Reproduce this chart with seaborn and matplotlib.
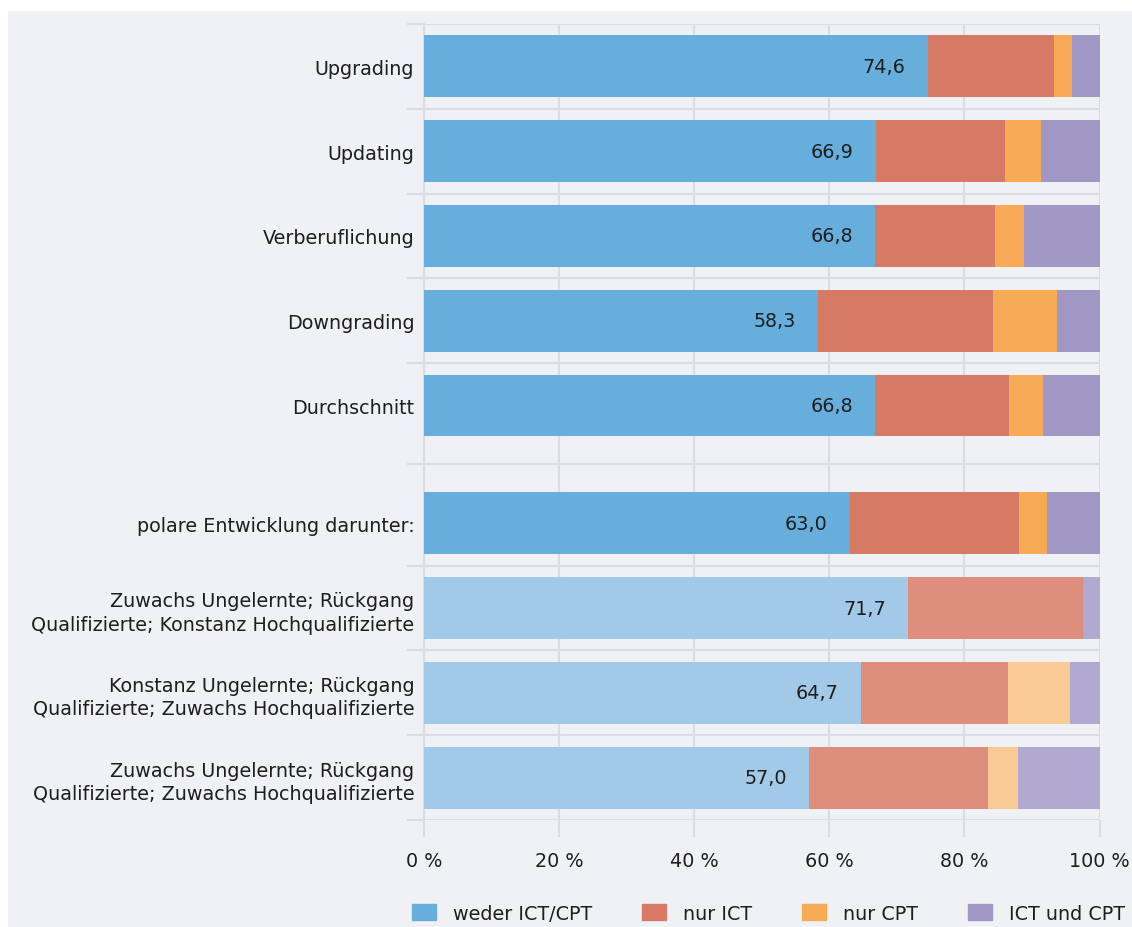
import numpy as np
import pandas as pd
import matplotlib
matplotlib.use("Agg")
import matplotlib.pyplot as plt
import matplotlib.patches as mpatches
import seaborn as sns

# Data (shares in %)
categories = [
    "Upgrading",
    "Updating",
    "Verberuflichung",
    "Downgrading",
    "Durchschnitt",
    "polare Entwicklung darunter:",
    "Zuwachs Ungelernte; Rückgang\nQualifizierte; Konstanz Hochqualifizierte",
    "Konstanz Ungelernte; Rückgang\nQualifizierte; Zuwachs Hochqualifizierte",
    "Zuwachs Ungelernte; Rückgang\nQualifizierte; Zuwachs Hochqualifizierte",
]
weder = [74.6, 66.9, 66.8, 58.3, 66.8, 63.0, 71.7, 64.7, 57.0]
nur_ict = [18.6, 19.1, 17.8, 25.9, 19.8, 25.1, 25.9, 21.7, 26.5]
nur_cpt = [2.8, 5.4, 4.2, 9.5, 5.1, 4.2, 0.0, 9.3, 4.4]
ict_und_cpt = [4.0, 8.6, 11.2, 6.3, 8.3, 7.7, 2.4, 4.3, 12.1]
series_names = ["weder ICT/CPT", "nur ICT", "nur CPT", "ICT und CPT"]

# first rows in full colour, the three sub-rows in a lighter tone
dark_colors = ["#67aedc", "#d67a65", "#f6aa56", "#a197c5"]
light_colors = ["#a3c9e9", "#de8e7c", "#f9ca96", "#b1a9d0"]
n_dark = 6

# layout: gap between "Durchschnitt" and "polare Entwicklung"
gap = 0.39
pos = np.arange(len(categories), dtype=float)
pos[5:] += gap

df = pd.DataFrame({
    "pos": pos,
    "weder": weder,
    "nur_ict": nur_ict,
    "nur_cpt": nur_cpt,
    "beide": ict_und_cpt,
})
# cumulative ends for stacking (draw widest first)
df["c1"] = df["weder"]
df["c2"] = df["c1"] + df["nur_ict"]
df["c3"] = df["c2"] + df["nur_cpt"]
df["c4"] = df["c3"] + df["beide"]

bg = "#f0f1f5"
grid_col = "#dcdde1"
text_col = "#1e1e1e"

sns.set_theme(style="white")
plt.rcParams["font.family"] = ["DejaVu Sans"]

fig = plt.figure(figsize=(11.32, 9.28), dpi=100)
fig.patch.set_facecolor("white")
panel = mpatches.Rectangle((8 / 1132, 0), 1, 1 - 12 / 928,
                           transform=fig.transFigure, color=bg, zorder=-10)
fig.add_artist(panel)
ax = fig.add_axes([424 / 1132, 1 - 821 / 928, 675.5 / 1132, (821 - 25) / 928])
ax.set_facecolor(bg)
ax.set_zorder(1)

parts = [(df.iloc[:n_dark], dark_colors), (df.iloc[n_dark:], light_colors)]
for sub, cols in parts:
    for col_name, color in zip(["c4", "c3", "c2", "c1"], cols[::-1]):
        sns.barplot(data=sub, x=col_name, y="pos", orient="h", native_scale=True,
                    color=color, width=0.73, errorbar=None, linewidth=0,
                    saturation=1, ax=ax, zorder=3)

# value labels inside the blue segment
for p, v in zip(pos, weder):
    ax.text(v - 3.3, p, f"{v:.1f}".replace(".", ","), ha="right", va="center",
            fontsize=13.8, color=text_col, zorder=5)

# axes
ax.set_xlim(0, 100)
ax.set_ylim(pos[-1] + 0.5, -0.5)
ax.set_xlabel("")
ax.set_ylabel("")
ax.set_xticks(np.arange(0, 101, 20))
ax.set_xticklabels([f"{t} %" for t in range(0, 101, 20)])
ax.set_yticks(pos)
ax.set_yticklabels(categories, fontsize=13.8, color=text_col, linespacing=1.3)

bounds = [-0.5, 0.5, 1.5, 2.5, 3.5, 4.5 + gap / 2 - 0.01, 5.5 + gap, 6.5 + gap, 7.5 + gap, 8.5 + gap]
ax.set_yticks(bounds, minor=True)
ax.tick_params(axis="y", which="both", left=True)
ax.tick_params(axis="x", which="major", bottom=True)
ax.tick_params(axis="y", which="major", length=0, pad=7)
ax.tick_params(axis="y", which="minor", length=12, width=1.5, color=grid_col)
ax.tick_params(axis="x", which="major", length=12, width=1.5, color=grid_col,
               pad=10, labelsize=13.8, labelcolor=text_col)
ax.grid(True, axis="y", which="minor", color=grid_col, linewidth=1.5, zorder=1)
ax.grid(True, axis="x", which="major", color=grid_col, linewidth=1.5, zorder=1)
ax.set_axisbelow(True)

for s in ["top", "right", "bottom"]:
    ax.spines[s].set_visible(False)
ax.spines["left"].set_color(grid_col)
ax.spines["left"].set_linewidth(1.5)

handles = [mpatches.Patch(color=c, label=n) for c, n in zip(dark_colors, series_names)]
fig.legend(handles=handles, loc="center", bbox_to_anchor=(0.679, 0.015), ncol=4,
           frameon=False, fontsize=13.8, handlelength=1.25, handleheight=0.95,
           handletextpad=0.9, columnspacing=2.6, labelcolor=text_col)

fig.savefig("out.png", dpi=100, facecolor=fig.get_facecolor())
